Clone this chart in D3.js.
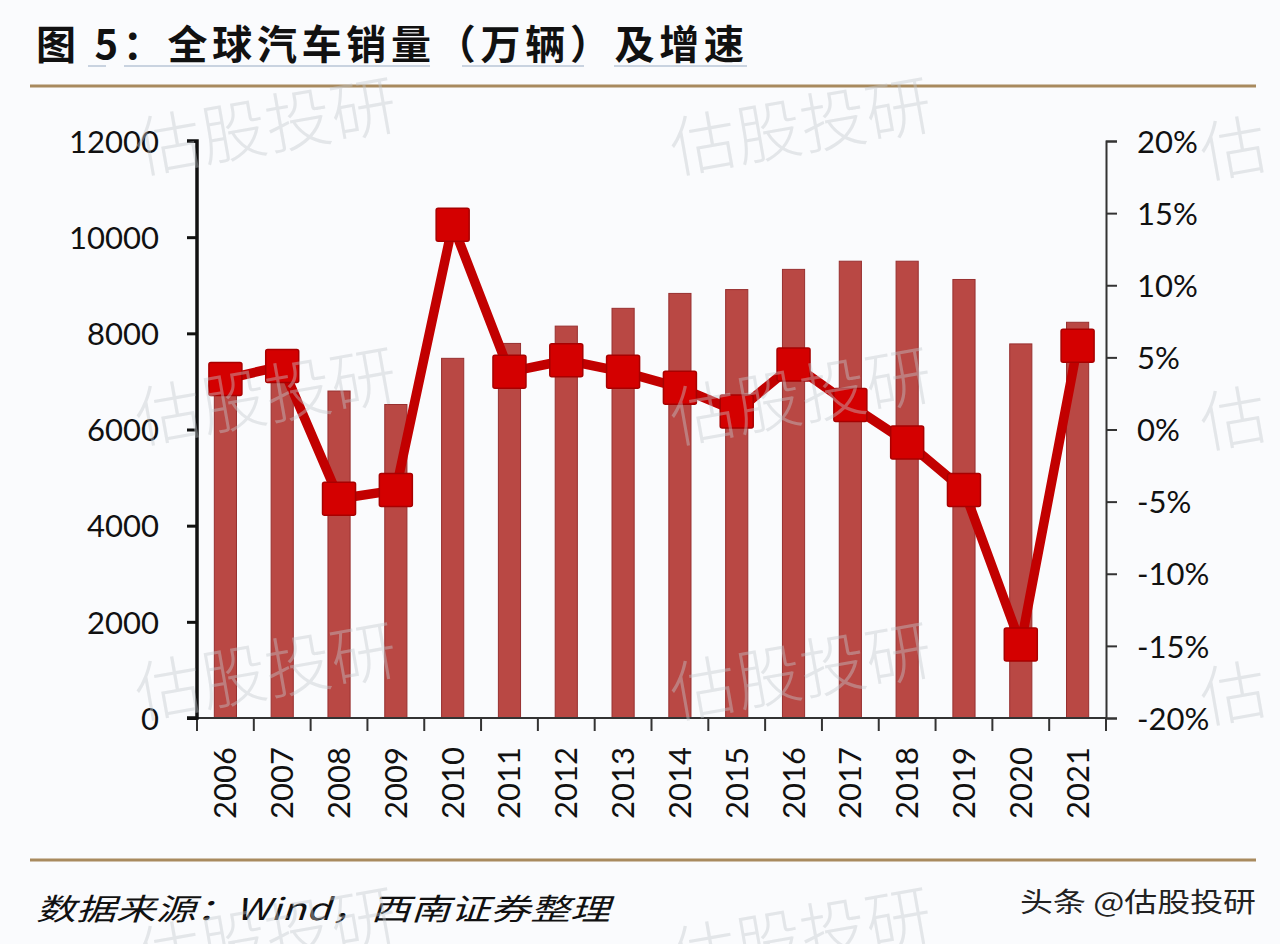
<!DOCTYPE html>
<html><head><meta charset="utf-8">
<script src="https://cdn.jsdelivr.net/npm/d3@7"></script>
<style>
html,body{margin:0;padding:0;background:#fafbfd;}
svg{display:block;}
</style></head>
<body>
<svg id="c" width="1280" height="944"></svg>
<script>
const years = ["2006","2007","2008","2009","2010","2011","2012","2013","2014","2015","2016","2017","2018","2019","2020","2021"];
const sales = [6900,7200,6800,6520,7480,7790,8150,8520,8830,8910,9330,9500,9500,9120,7780,8230];
const growth = [3.5,4.4,-4.8,-4.2,14.2,4.0,4.8,4.0,2.9,1.25,4.5,1.7,-0.9,-4.2,-14.9,5.8];
const leftTicks = [0,2000,4000,6000,8000,10000,12000];
const rightTicks = [-20,-15,-10,-5,0,5,10,15,20];
const titleText = "图 5：全球汽车销量（万辆）及增速";
const sourceText = "数据来源：Wind，西南证券整理";
const brandText = "头条 @估股投研";
const wmText = "估股投研";
const wmEdgeText = "估";

const svg = d3.select("#c");
const W = 1280, H = 944;
const m = {left:197, right:1106, top:141, bottom:718};

svg.append("rect").attr("width",W).attr("height",H).attr("fill","#fafbfd");

const x = d3.scaleBand().domain(years).range([m.left,m.right]).paddingInner(0.61).paddingOuter(0.305);
const xb = d3.scaleBand().domain(years).range([m.left,m.right]);
const yL = d3.scaleLinear().domain([0,12000]).range([m.bottom,m.top]);
const yR = d3.scaleLinear().domain([-20,20]).range([m.bottom,m.top]);

const font = "Lato, 'Open Sans', sans-serif";

// title
svg.append("text").attr("x",36).attr("y",59)
  .attr("font-family","'Noto Sans CJK SC', sans-serif").attr("font-weight",700)
  .attr("font-size",40).attr("fill","#111")
  .attr("textLength",708).attr("lengthAdjust","spacing")
  .text(titleText);
// faint underlines under title
[[88,106],[124,430],[462,584],[614,747]].forEach(([a,b])=>{
  svg.append("line").attr("x1",a).attr("x2",b).attr("y1",66).attr("y2",66)
    .attr("stroke","#b9c6d6").attr("stroke-width",1.5);
});
// gold rules
svg.append("line").attr("x1",30).attr("x2",1256).attr("y1",86).attr("y2",86).attr("stroke","#a88a5e").attr("stroke-width",3);
svg.append("line").attr("x1",30).attr("x2",1256).attr("y1",860).attr("y2",860).attr("stroke","#a88a5e").attr("stroke-width",3);

// bars
svg.append("g").selectAll("rect").data(years).join("rect")
  .attr("x",d=>x(d)).attr("width",x.bandwidth())
  .attr("y",(d,i)=>yL(sales[i])).attr("height",(d,i)=>yL(0)-yL(sales[i]))
  .attr("fill","#b94844").attr("stroke","#983030").attr("stroke-width",1);

// x axis
const gx = svg.append("g").attr("transform",`translate(0,${m.bottom})`);
gx.append("line").attr("x1",m.left).attr("x2",m.right).attr("stroke","#333").attr("stroke-width",2);
const bounds = years.map(d=>xb(d)).concat([m.right]);
gx.selectAll("line.t").data(bounds).join("line").attr("class","t")
  .attr("x1",d=>d).attr("x2",d=>d).attr("y1",0).attr("y2",13).attr("stroke","#333").attr("stroke-width",2);
gx.selectAll("text").data(years).join("text")
  .attr("transform",d=>`translate(${xb(d)+xb.bandwidth()/2+11},${29}) rotate(-90)`)
  .attr("text-anchor","end").attr("font-family",font).attr("font-size",31).attr("fill","#111")
  .text(d=>d);

// left axis
const gl = svg.append("g").attr("transform",`translate(${m.left},0)`)
  .call(d3.axisLeft(yL).tickValues(leftTicks).tickSize(10).tickPadding(28).tickFormat(d3.format("d")));
gl.select(".domain").attr("stroke","#111").attr("stroke-width",3.5).attr("d",`M-10,${m.top}H0V${m.bottom}H-10`);
gl.selectAll(".tick line").attr("stroke","#111").attr("stroke-width",3);
gl.selectAll(".tick text").attr("font-family",font).attr("font-size",31).attr("fill","#111").attr("dy","0.36em");

// right axis
const gr = svg.append("g").attr("transform",`translate(${m.right},0)`)
  .call(d3.axisRight(yR).tickValues(rightTicks).tickSize(11).tickPadding(20).tickFormat(d=>d+"%"));
gr.select(".domain").attr("stroke","#333").attr("stroke-width",2);
gr.selectAll(".tick line").attr("stroke","#333").attr("stroke-width",2);
gr.selectAll(".tick text").attr("font-family",font).attr("font-size",31).attr("fill","#111").attr("dy","0.36em");

// line
const cx = d=>xb(d)+xb.bandwidth()/2;
const line = d3.line().x((d,i)=>cx(years[i])).y(d=>yR(d));
svg.append("path").datum(growth).attr("d",line).attr("fill","none")
  .attr("stroke","#c20000").attr("stroke-width",9.5).attr("stroke-linejoin","round");
svg.append("g").selectAll("rect").data(growth).join("rect")
  .attr("x",(d,i)=>cx(years[i])-16.5).attr("y",d=>yR(d)-16.5)
  .attr("width",33).attr("height",33).attr("rx",2)
  .attr("fill","#d40000").attr("stroke","#a80000").attr("stroke-width",1.5);

// footer
svg.append("text").attr("x",36).attr("y",920)
  .attr("font-family","'Noto Sans CJK SC', sans-serif").attr("font-style","italic")
  .attr("font-size",30).attr("fill","#111")
  .attr("textLength",574).attr("lengthAdjust","spacingAndGlyphs")
  .text(sourceText);
svg.append("text").attr("x",1020).attr("y",912)
  .attr("font-family","'Noto Sans CJK SC', sans-serif")
  .attr("font-size",27).attr("fill","#222")
  .attr("textLength",236).attr("lengthAdjust","spacingAndGlyphs")
  .text(brandText);

// watermarks
const wmX = [270, 805];
const wmY = [150, 420, 695, 960];
const wm = svg.append("g").attr("pointer-events","none");
const wmStyle = s => s.attr("font-family","'Noto Sans CJK SC', sans-serif")
    .attr("font-weight",300).attr("font-size",66)
    .attr("fill","#c4c8ce").attr("fill-opacity",0.42);
wmY.forEach(yy=>{
  wmX.forEach(xx=>{
    wm.append("text").attr("transform",`translate(${xx},${yy}) rotate(-10)`)
      .attr("text-anchor","middle").call(wmStyle).text(wmText);
  });
  if (yy < 900) {
    wm.append("text").attr("transform",`translate(1205,${yy+28}) rotate(-10)`)
      .attr("text-anchor","start").call(wmStyle).text(wmEdgeText);
  }
});
</script>
</body></html>
